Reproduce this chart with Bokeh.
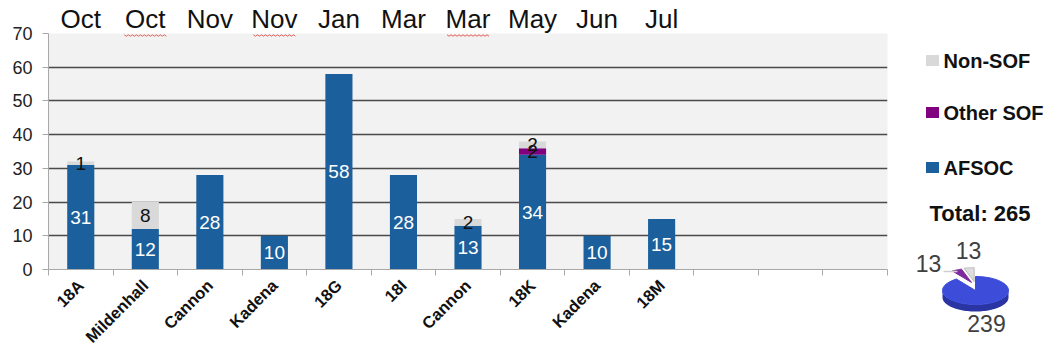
import numpy as np
from bokeh.plotting import figure
from bokeh.models import Range1d, FixedTicker, LinearAxis, ColumnDataSource
from bokeh.core.properties import value
from bokeh.embed import file_html
from bokeh.resources import INLINE

# ---- data -------------------------------------------------------------
months = ["Oct", "Oct", "Nov", "Nov", "Jan", "Mar", "Mar", "May", "Jun", "Jul"]
classes = ["18A", "Mildenhall", "Cannon", "Kadena", "18G", "18I",
           "Cannon", "18K", "Kadena", "18M"]
afsoc = [31, 12, 28, 10, 58, 28, 13, 34, 10, 15]
other_sof = [0, 0, 0, 0, 0, 0, 0, 2, 0, 0]
non_sof = [1, 8, 0, 0, 0, 0, 2, 2, 0, 0]
n_slots = 13                       # class slots on the schedule (3 still open)
y_ticks = [0, 10, 20, 30, 40, 50, 60, 70]
underlined_months = [1, 3, 6]      # month headers with a red squiggle

pie_names = ["Non-SOF", "Other SOF", "AFSOC"]
pie_values = [13, 13, 239]
total = 265

# ---- style ------------------------------------------------------------
FONT = "Liberation Sans"
C_AFSOC = "#1b609c"
C_OTHER = "#800080"
C_NON = "#d9d9d9"

FRAME_L, FRAME_R, FRAME_T, FRAME_B = 48, 887, 33, 269
W, H = 1059, 356

xs = list(range(len(classes)))
src = ColumnDataSource(dict(x=xs, afsoc=afsoc, other=other_sof, non=non_sof))

p = figure(frame_width=FRAME_R - FRAME_L, frame_height=FRAME_B - FRAME_T,
           x_range=Range1d(-0.5, n_slots - 0.5), y_range=Range1d(0, 70),
           output_backend="svg", toolbar_location=None,
           min_border_left=FRAME_L, min_border_right=W - FRAME_R,
           min_border_top=FRAME_T, min_border_bottom=H - FRAME_B,
           background_fill_color="#f2f2f2", border_fill_color="white",
           outline_line_color=None)

# page-pixel ranges for the legend and pie drawn beside the chart
p.extra_x_ranges = {"px": Range1d(FRAME_L, FRAME_R)}
p.extra_y_ranges = {"py": Range1d(FRAME_B, FRAME_T)}
side = dict(x_range_name="px", y_range_name="py", level="overlay")

p.vbar_stack(["afsoc", "other", "non"], x="x", width=0.42, source=src,
             color=[C_AFSOC, C_OTHER, C_NON], line_color=None)

# segment value labels, centred in each segment
lx, ly, lt, lc = [], [], [], []
for i in xs:
    base = 0
    for v, col in ((afsoc[i], "white"), (other_sof[i], "#111111"),
                   (non_sof[i], "#111111")):
        if v > 0:
            lx.append(i)
            ly.append(base + v / 2)
            lt.append(str(v))
            lc.append(col)
        base += v
p.text(x=lx, y=ly, text=lt, text_color=lc, text_align="center",
       text_baseline="middle", text_font=value(FONT), text_font_size="19px")

# y axis and grid
ya = p.yaxis[0]
ya.ticker = FixedTicker(ticks=y_ticks)
ya.major_label_text_font = FONT
ya.major_label_text_font_size = "18px"
ya.major_label_text_color = "#222222"
ya.major_tick_out = 6
ya.major_tick_in = 0
ya.minor_tick_line_color = None
ya.axis_line_color = "#a8a8a8"
ya.major_tick_line_color = "#a8a8a8"
ya.major_label_standoff = 10
p.ygrid.ticker = FixedTicker(ticks=y_ticks)
p.ygrid.grid_line_color = "#4a4a4a"
p.ygrid.grid_line_width = 1.5
p.xgrid.visible = False

# bottom axis: class names, tick marks between slots
xa = p.xaxis[0]
xa.ticker = FixedTicker(ticks=xs,
                        minor_ticks=[i - 0.5 for i in range(n_slots + 1)])
xa.major_label_overrides = {i: c for i, c in enumerate(classes)}
xa.major_tick_line_color = None
xa.major_tick_out = 0
xa.major_tick_in = 0
xa.minor_tick_out = 6
xa.minor_tick_in = 0
xa.minor_tick_line_color = "#a8a8a8"
xa.axis_line_color = "#a8a8a8"
xa.major_label_orientation = np.pi / 4
xa.major_label_text_font = FONT
xa.major_label_text_font_style = "bold"
xa.major_label_text_font_size = "16.5px"
xa.major_label_text_color = "#111111"
xa.major_label_standoff = 7

# top axis: month of each class
ta = LinearAxis(ticker=FixedTicker(ticks=xs),
                major_label_overrides={i: m for i, m in enumerate(months)},
                axis_line_color=None, major_tick_line_color=None,
                minor_tick_line_color=None, major_tick_out=0,
                major_tick_in=0, major_label_standoff=0,
                major_label_text_font=FONT,
                major_label_text_font_size="26px",
                major_label_text_color="#111111")
p.add_layout(ta, "above")

# red squiggles under some month headers
slot_px = (FRAME_R - FRAME_L) / n_slots
for i in underlined_months:
    c = FRAME_L + (i + 0.5) * slot_px
    zx = np.linspace(c - 21, c + 21, 22)
    zy = FRAME_T + 2 + np.where(np.arange(22) % 2 == 0, -0.7, 0.7)
    p.line(zx, zy, line_color="#e0605a", line_width=1, **side)

# ---- legend and total -------------------------------------------------
leg_y = [60, 112, 167]
p.rect(x=932, y=leg_y, width=13, height=11,
       color=[C_NON, C_OTHER, C_AFSOC], line_color=None, **side)
p.text(x=943, y=leg_y, text=["Non-SOF", "Other SOF", "AFSOC"],
       text_baseline="middle", text_font=value(FONT),
       text_font_style="bold", text_font_size="20px", text_color="#111111",
       **side)
p.text(x=[929], y=[213], text=[f"Total: {total}"], text_baseline="middle",
       text_font=value(FONT), text_font_style="bold",
       text_font_size="22px", text_color="#111111", **side)

# ---- tilted pie, slices from 12 o'clock going anticlockwise ------------
cx, cy, rx, ry, thick = 975, 290, 33, 14, 7
fr = np.array(pie_values, dtype=float) / sum(pie_values)
edges = np.pi / 2 + 2 * np.pi * np.concatenate([[0], np.cumsum(fr)])


def arc(t0, t1, x0, y0, dy=0.0, n=60):
    t = np.linspace(t0, t1, n)
    return x0 + rx * np.cos(t), y0 - ry * np.sin(t) + dy


# side band of the main slice (front half)
bx, by = arc(np.pi, 2 * np.pi, cx, cy)
bx2, by2 = arc(2 * np.pi, np.pi, cx, cy, dy=thick)
p.patch(np.concatenate([bx, bx2]), np.concatenate([by, by2]),
        color="#2a34a3", line_color=None, **side)

slice_cols = ["#dedede", "#7d2a9e", "#3d4cd9"]
slice_lines = ["#b8b8b8", "#7d2a9e", "#3d4cd9"]
for k in range(3):
    t0, t1 = edges[k], edges[k + 1]
    ox = oy = 0.0
    if k < 2:                                   # small slices pulled out
        mid = (t0 + t1) / 2
        ox, oy = 9 * np.cos(mid), -9 * np.sin(mid)
    ax, ay = arc(t0, t1, cx + ox, cy + oy)
    p.patch(np.concatenate([[cx + ox], ax]), np.concatenate([[cy + oy], ay]),
            color=slice_cols[k], line_color=slice_lines[k], line_width=1,
            **side)

p.line([943, 957], [271, 271], line_color="#cfcfcf", line_width=1.5, **side)
p.text(x=[968, 928, 986], y=[250, 263, 323], text=[str(v) for v in pie_values],
       text_align="center", text_baseline="middle", text_font=value(FONT),
       text_font_size="23px", text_color="#404040", **side)

open("out.html", "w").write(file_html(p, INLINE))
